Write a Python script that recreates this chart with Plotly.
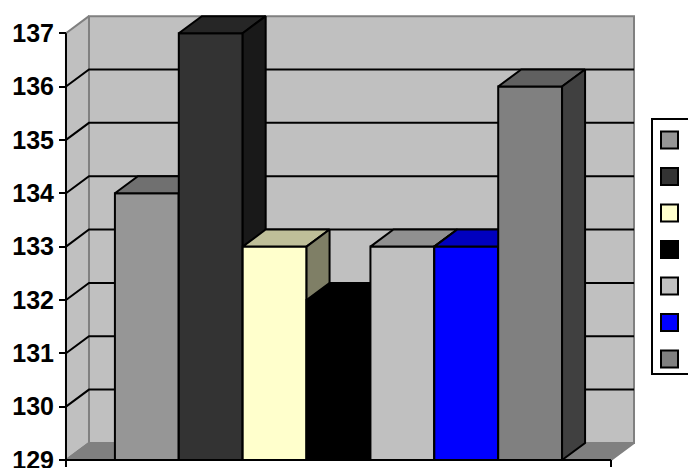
import plotly.graph_objects as go

# ---- data ----
values = [134, 137, 133, 132, 133, 133, 136]
colors = ["#969696", "#333333", "#FFFFCC", "#000000", "#C0C0C0", "#0000FF", "#808080"]
y_ticks = [129, 130, 131, 132, 133, 134, 135, 136, 137]
y_min, y_max = 129, 137

# ---- geometry / style ----
GAP = 0.766      # gap between axis end and first/last bar (in bar widths)
DX = 0.36        # depth offset x (bar widths)
DY = 0.32        # depth offset y (value units)
W = len(values) + 2 * GAP
X_LEFT, X_RIGHT = -6 / 64, W + DX + 3 / 64
Y_LOW, Y_HIGH = 128.85, 137.36
M_L, M_R, M_T, M_B = 60, 51, 14, 0
FIG_W, FIG_H = 688, 468
WALL = "#C0C0C0"
WALL_EDGE = "#808080"
FLOOR = "#808080"
LW = 2


def shade(hx, f):
    hx = hx.lstrip("#")
    r, g, b = (int(hx[i:i + 2], 16) for i in (0, 2, 4))
    return "#%02X%02X%02X" % (int(r * f), int(g * f), int(b * f))


fig = go.Figure()


def poly(xs, ys, fill, edge, lw=LW):
    fig.add_trace(go.Scatter(
        x=list(xs) + [xs[0]], y=list(ys) + [ys[0]], mode="lines",
        fill="toself", fillcolor=fill, line=dict(color=edge, width=lw),
        hoverinfo="skip", showlegend=False))


def pline(xs, ys, color="#000000", lw=LW):
    fig.add_trace(go.Scatter(
        x=xs, y=ys, mode="lines", line=dict(color=color, width=lw),
        hoverinfo="skip", showlegend=False))


# walls and floor
poly([DX, W + DX, W + DX, DX], [y_min + DY, y_min + DY, y_max + DY, y_max + DY], WALL, WALL_EDGE)
poly([0, 0, DX, DX], [y_min, y_max, y_max + DY, y_min + DY], WALL, WALL_EDGE)
poly([0, W, W + DX, DX], [y_min, y_min, y_min + DY, y_min + DY], FLOOR, WALL_EDGE)

# gridlines
for v in y_ticks[1:-1]:
    pline([0, DX, W + DX], [v, v + DY, v + DY])

# bars
for i, (v, c) in enumerate(zip(values, colors)):
    x0 = GAP + i
    x1 = x0 + 1
    poly([x0, x1, x1, x0], [y_min, y_min, v, v], c, "#000000")
    poly([x0, x1, x1 + DX, x0 + DX], [v, v, v + DY, v + DY], shade(c, 0.75), "#000000")
    poly([x1, x1, x1 + DX, x1 + DX], [y_min, v, v + DY, y_min + DY], shade(c, 0.5), "#000000")

# front axes
tick_down = 7 / 53.35
pline([0, 0], [y_min - tick_down, y_max])
pline([0, W], [y_min, y_min])
pline([W, W], [y_min, y_min - tick_down])

# ---- legend (no labels) ----
plot_w = FIG_W - M_L - M_R
plot_h = FIG_H - M_T - M_B


def px_x(p):
    return (p - M_L) / plot_w


def px_y(p):
    return (FIG_H - M_B - p) / plot_h


lx0, lx1, ly_top, ly_bot = px_x(652), px_x(720), px_y(119), px_y(374)
shapes = [dict(type="path", xref="paper", yref="paper",
               path=f"M {lx1} {ly_top} L {lx0} {ly_top} L {lx0} {ly_bot} L {lx1} {ly_bot}",
               line=dict(color="#000000", width=2), layer="above")]
for i, c in enumerate(colors):
    cy = 140 + 36.5 * i
    shapes.append(dict(type="rect", xref="paper", yref="paper",
                       x0=px_x(661), x1=px_x(678), y0=px_y(cy + 8.5), y1=px_y(cy - 8.5),
                       line=dict(color="#000000", width=2), fillcolor=c, layer="above"))

y_pos = (0 - X_LEFT) / (X_RIGHT - X_LEFT)

fig.update_layout(
    width=FIG_W, height=FIG_H,
    margin=dict(l=M_L, r=M_R, t=M_T, b=M_B, autoexpand=False),
    paper_bgcolor="#FFFFFF", plot_bgcolor="#FFFFFF",
    showlegend=False,
    shapes=shapes,
    xaxis=dict(range=[X_LEFT, X_RIGHT], visible=False, fixedrange=True),
    yaxis=dict(range=[Y_LOW, Y_HIGH], tickvals=y_ticks,
               ticktext=[str(t) for t in y_ticks],
               anchor="free", position=y_pos,
               ticks="outside", ticklen=7, tickwidth=2, tickcolor="#000000",
               ticklabeloverflow="allow",
               showgrid=False, zeroline=False, showline=False,
               tickfont=dict(family="Liberation Sans, Arial", size=25, color="#000000", weight="bold"),
               fixedrange=True),
)

fig.write_html("out.html")
